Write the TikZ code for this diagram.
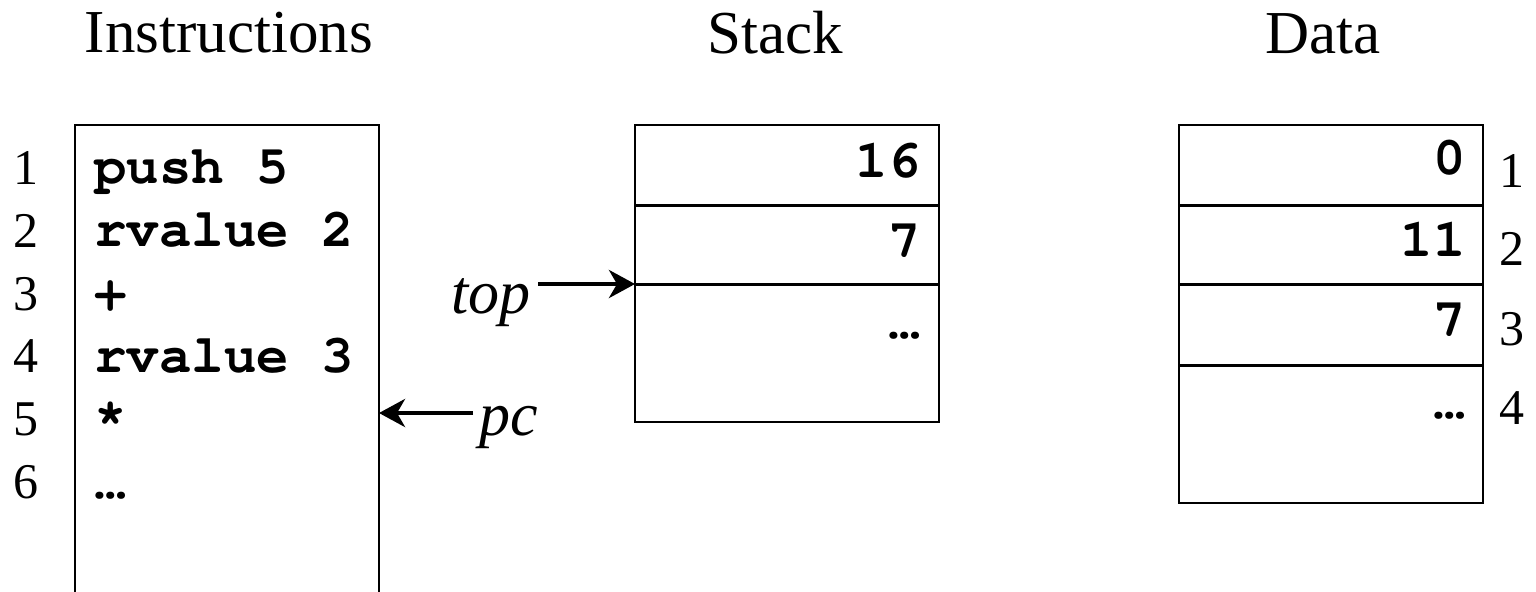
\documentclass[tikz,border=0pt]{standalone}
\usepackage{fontspec}
\setmainfont{Liberation Serif}
\newfontfamily\codefont{texgyrecursor}[Extension=.otf, UprightFont=*-regular, BoldFont=*-bold]
\usetikzlibrary{arrows.meta,fit}
\tikzset{
  title/.style={font=\fontsize{30.5}{36}\selectfont, anchor=base, inner sep=0pt},
  ptrlabel/.style={font=\fontsize{31}{36}\selectfont\itshape, inner sep=0pt},
  lineno/.style={font=\fontsize{25}{30}\selectfont, anchor=base, inner sep=0pt},
  code/.style={font=\codefont\bfseries\fontsize{27}{32}\selectfont, anchor=base west, inner sep=0pt},
  val/.style={font=\codefont\bfseries\fontsize{27}{32}\selectfont, anchor=base east, inner sep=0pt},
  cell/.style={draw, line width=1pt, inner sep=0pt, outer sep=0pt},
  divider/.style={line width=1.5pt},
  ptr/.style={line width=2.2pt, -{Stealth[length=13pt,width=14pt,inset=4pt]}},
}
\begin{document}
\begin{tikzpicture}[x=0.5pt,y=-0.5pt]
\useasboundingbox (0,0) rectangle (1536,591);
\clip (0,0) rectangle (1536,591);

% column headings
\node[title] (hinstr) at (229,52) {Instructions};
\node[title] (hstack) at (775,53) {Stack};
\node[title] (hdata)  at (1323,53) {Data};

% instruction memory
\node[cell, fit={(75,125) (379,630)}] (instr) {};
\foreach \n/\y in {1/184,2/247,3/310,4/372,5/435,6/498}
  \node[lineno] (iln\n) at (26,\y) {\n};
\node[code] (c1) at (94,183) {push 5};
\node[code] (c2) at (94,246) {rvalue 2};
\node[code] (c3) at (94,309) {+};
\node[code] (c4) at (94,372) {rvalue 3};
\node[code] (c5) at (94,435) {*};
\node[code] (c6) at (94,498) {…};

% stack
\node[cell, fit={(635,125) (939,205)}] (s1) {};
\node[cell, fit={(635,205) (939,284)}] (s2) {};
\node[cell, fit={(635,284) (939,422)}] (s3) {};
\draw[divider] (s1.south west) -- (s1.south east);
\draw[divider] (s2.south west) -- (s2.south east);
\node[val] (sv1) at (921,177) {16};
\node[val] (sv2) at (921,257) {7};
\node[val] (sv3) at (921,338) {…};

% data memory
\node[cell, fit={(1179,125) (1483,205)}] (d1) {};
\node[cell, fit={(1179,205) (1483,284)}] (d2) {};
\node[cell, fit={(1179,284) (1483,365)}] (d3) {};
\node[cell, fit={(1179,365) (1483,503)}] (d4) {};
\draw[divider] (d1.south west) -- (d1.south east);
\draw[divider] (d2.south west) -- (d2.south east);
\draw[divider] (d3.south west) -- (d3.south east);
\node[val] (dv1) at (1466,174) {0};
\node[val] (dv2) at (1466,256) {11};
\node[val] (dv3) at (1466,336) {7};
\node[val] (dv4) at (1466,418) {…};
\foreach \n/\y in {1/187,2/265,3/345,4/424}
  \node[lineno] (dln\n) at (1512,\y) {\n};

% registers
\node[ptrlabel, anchor=base west] (toplbl) at (451,313) {top};
\coordinate (topstart) at (538,284);
\draw[ptr] (topstart) -- (topstart -| s3.west);

\node[ptrlabel, anchor=base west] (pclbl) at (479,435) {pc};
\coordinate (pcstart) at (473,413);
\draw[ptr] (pcstart) -- (pcstart -| instr.east);
\end{tikzpicture}
\end{document}
